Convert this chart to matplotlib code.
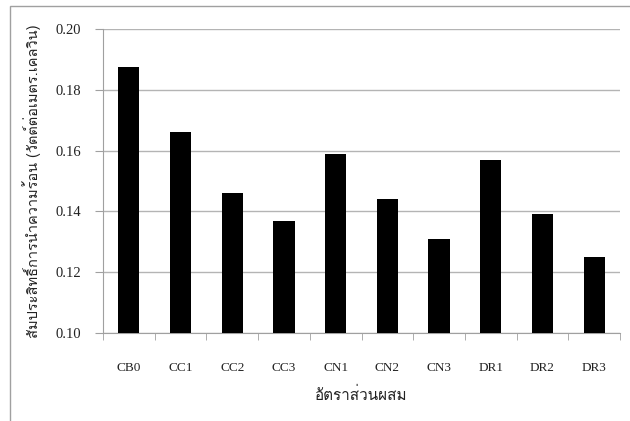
import matplotlib
matplotlib.use("Agg")
import matplotlib.pyplot as plt
from matplotlib import font_manager
from matplotlib.ft2font import FT2Font
from matplotlib.patches import Rectangle

categories = ["CB0", "CC1", "CC2", "CC3", "CN1", "CN2", "CN3", "DR1", "DR2", "DR3"]
values = [0.1875, 0.166, 0.146, 0.137, 0.159, 0.144, 0.131, 0.157, 0.139, 0.125]
yticks = [0.10, 0.12, 0.14, 0.16, 0.18, 0.20]
xlabel = "อัตราส่วนผสม"
ylabel = "สัมประสิทธิ์การนำความร้อน (วัตต์ต่อเมตร.เคลวิน)"

# find a font that has Thai glyphs
thai_family = None
for f in font_manager.fontManager.ttflist:
    try:
        ft = FT2Font(f.fname)
        if ft.get_char_index(0x0E2D) and ft.get_char_index(0x0E31):
            thai_family = f.name
            break
    except Exception:
        pass
thai_fams = ([thai_family] if thai_family else []) + ["DejaVu Sans"]

serif = "Liberation Serif"

fig = plt.figure(figsize=(6.30, 4.21), dpi=100)
# outer frame
fig.patches.append(Rectangle((10/630, -0.01), 0.99, (415/421) + 0.01,
                             transform=fig.transFigure, fill=False,
                             edgecolor="#a0a0a0", linewidth=1.0))
ax = fig.add_axes([103/630, 1 - 333/421, (620 - 103)/630, (333 - 29)/421])

x = list(range(len(categories)))
ax.bar(x, values, width=0.41, color="black", zorder=3)
ax.set_xlim(-0.5, len(categories) - 0.5)
ax.set_ylim(0.10, 0.20)
ax.set_yticks(yticks)
ax.set_yticklabels([f"{v:.2f}" for v in yticks], fontfamily=serif, fontsize=10.5,
                   color="#222222")
ax.set_xticks(x)
ax.set_xticklabels(categories, fontfamily=serif, fontsize=9.5, color="#222222")
ax.set_xticks([i - 0.5 for i in range(len(categories) + 1)], minor=True)
ax.tick_params(axis="x", which="major", length=0, pad=21)
ax.tick_params(axis="x", which="minor", length=5, color="#a0a0a0", direction="out")
ax.tick_params(axis="y", length=6, color="#a0a0a0", direction="out", pad=10)
ax.grid(axis="y", color="#b4b4b4", linewidth=1.0, zorder=0)
for s in ["top", "right"]:
    ax.spines[s].set_visible(False)
for s in ["left", "bottom"]:
    ax.spines[s].set_color("#a0a0a0")

ax.set_xlabel(xlabel, family=thai_fams, fontsize=11, labelpad=9, color="#222222")
ax.set_ylabel(ylabel, family=thai_fams, fontsize=10.5, labelpad=10, color="#222222")

fig.savefig("out.png", dpi=100)
